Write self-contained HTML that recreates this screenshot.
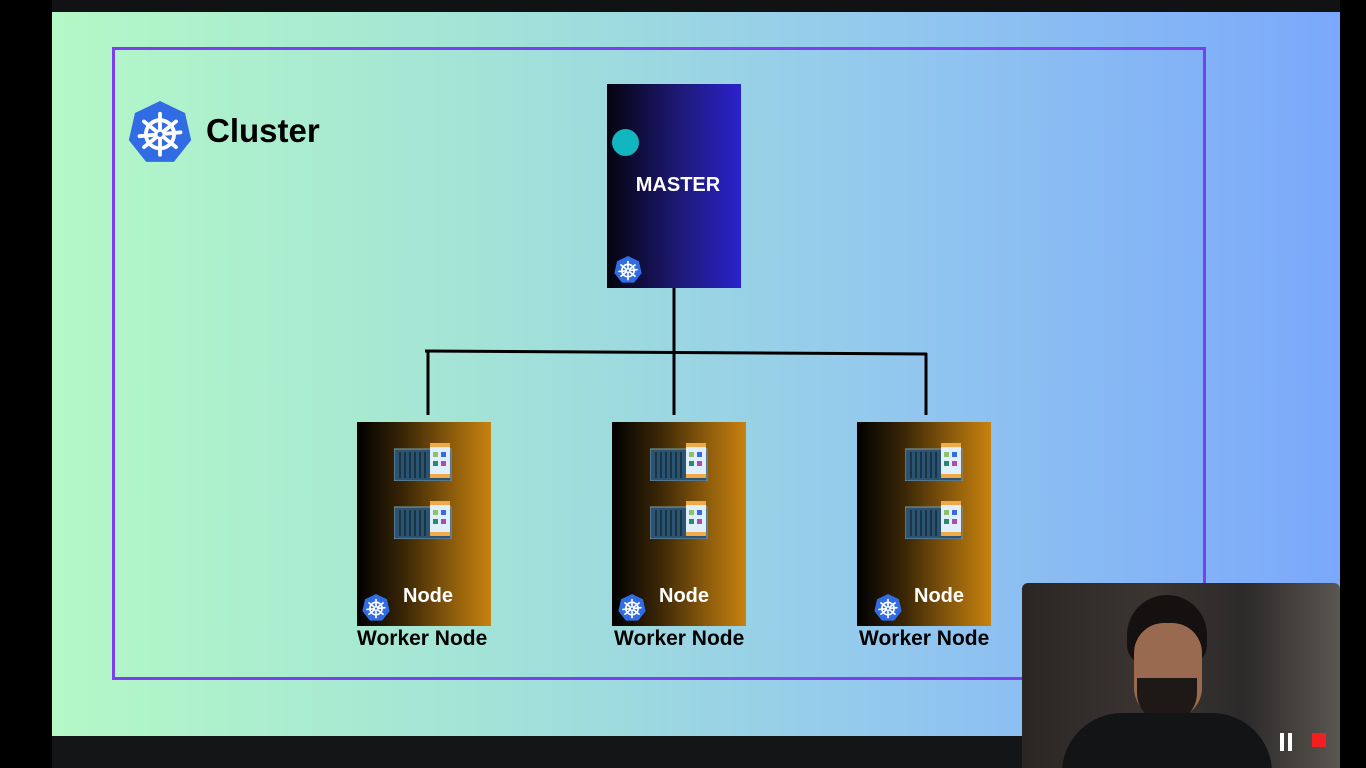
<!DOCTYPE html>
<html><head><meta charset="utf-8"><style>
*{margin:0;padding:0;box-sizing:border-box}
body{width:1366px;height:768px;background:#000;position:relative;overflow:hidden;font-family:"Liberation Sans",sans-serif}
.abs{position:absolute}
.top{left:52px;top:0;width:1288px;height:12px;background:#111214}
.bot{left:52px;top:736px;width:1288px;height:32px;background:#141517}
.slide{left:52px;top:12px;width:1288px;height:724px;background:linear-gradient(90deg,#b4f8c6 0%,#a2e2d8 35%,#93c8ee 65%,#7ba8fb 100%)}
.cluster{left:112px;top:47px;width:1094px;height:633px;border:3px solid #7b3ff0}
.master{left:607px;top:84px;width:134px;height:204px;background:linear-gradient(90deg,#05030e,#1e1a78 55%,#2a22cc)}
.node{width:134px;height:204px;top:422px;background:linear-gradient(90deg,#000 0%,#3a2606 35%,#8a5a0c 70%,#c8820e 100%)}
.lbl{color:#fff;font-weight:bold;font-size:20px;text-align:center}
.wn{color:#000;font-weight:bold;font-size:21px;top:627px;white-space:nowrap}
</style></head><body>
<svg width="0" height="0" style="position:absolute">
<defs>
<symbol id="k8" viewBox="0 0 100 100">
<polygon points="50,0 89.1,18.8 98.7,61.1 71.7,95.1 28.3,95.1 1.3,61.1 10.9,18.8" fill="#326ce5"/>
<g stroke="#fff" stroke-width="6" fill="none" stroke-linecap="round">
<circle cx="50" cy="52" r="22"/>
<line x1="50" y1="20" x2="50" y2="84"/>
<line x1="25" y1="32" x2="75" y2="72"/>
<line x1="75" y1="32" x2="25" y2="72"/>
<line x1="18" y1="55" x2="82" y2="49"/>
</g>
<circle cx="50" cy="52" r="6" fill="#326ce5" stroke="#fff" stroke-width="4"/>
</symbol>
<symbol id="ct" viewBox="0 0 60 38">
<rect x="0" y="6" width="57" height="32" fill="#2c5470" stroke="#7d9aab" stroke-width="1"/>
<g stroke="#183447" stroke-width="2">
<line x1="6" y1="9" x2="6" y2="35"/><line x1="11" y1="9" x2="11" y2="35"/><line x1="16" y1="9" x2="16" y2="35"/><line x1="21" y1="9" x2="21" y2="35"/><line x1="26" y1="9" x2="26" y2="35"/><line x1="31" y1="9" x2="31" y2="35"/>
</g>
<rect x="36" y="0" width="20" height="35" fill="#dff0fa"/>
<rect x="36" y="0" width="20" height="4" fill="#f0a848"/>
<rect x="36" y="31" width="20" height="4" fill="#f0a848"/>
<rect x="39" y="9" width="5" height="5" fill="#8fc070"/><rect x="47" y="9" width="5" height="5" fill="#3a6ae0"/>
<rect x="39" y="18" width="5" height="5" fill="#2a8a70"/><rect x="47" y="18" width="5" height="5" fill="#b04ab0"/>
</symbol>
</defs></svg>
<div class="abs top"></div><div class="abs bot"></div>
<div class="abs slide"></div>
<div class="abs cluster"></div>
<svg class="abs" style="left:128px;top:101px" width="64" height="64"><use href="#k8"/></svg>
<div class="abs" style="left:206px;top:112px;font-size:33px;font-weight:bold;color:#000">Cluster</div>
<div class="abs master"></div>
<div class="abs" style="left:612px;top:129px;width:27px;height:27px;border-radius:50%;background:#12b6be"></div>
<div class="abs lbl" style="left:606px;top:174px;width:144px">MASTER</div>
<svg class="abs" style="left:614px;top:256px" width="28" height="28"><use href="#k8"/></svg>
<svg class="abs" style="left:0;top:0" width="1366" height="768">
<g stroke="#000" stroke-width="3">
<line x1="674" y1="288" x2="674" y2="415"/>
<line x1="425" y1="351" x2="927" y2="354"/>
<line x1="428" y1="351" x2="428" y2="415"/>
<line x1="926" y1="353" x2="926" y2="415"/>
</g></svg>

<div class="abs node" style="left:357px"></div>
<div class="abs node" style="left:612px"></div>
<div class="abs node" style="left:857px"></div>

<svg class="abs" style="left:394px;top:443px" width="60" height="38"><use href="#ct"/></svg>
<svg class="abs" style="left:394px;top:501px" width="60" height="38"><use href="#ct"/></svg>
<svg class="abs" style="left:650px;top:443px" width="60" height="38"><use href="#ct"/></svg>
<svg class="abs" style="left:650px;top:501px" width="60" height="38"><use href="#ct"/></svg>
<svg class="abs" style="left:905px;top:443px" width="60" height="38"><use href="#ct"/></svg>
<svg class="abs" style="left:905px;top:501px" width="60" height="38"><use href="#ct"/></svg>

<div class="abs lbl" style="left:398px;top:585px;width:60px">Node</div>
<div class="abs lbl" style="left:654px;top:585px;width:60px">Node</div>
<div class="abs lbl" style="left:909px;top:585px;width:60px">Node</div>
<svg class="abs" style="left:362px;top:594px" width="28" height="28"><use href="#k8"/></svg>
<svg class="abs" style="left:618px;top:594px" width="28" height="28"><use href="#k8"/></svg>
<svg class="abs" style="left:874px;top:594px" width="28" height="28"><use href="#k8"/></svg>

<div class="abs wn" style="left:357px">Worker Node</div>
<div class="abs wn" style="left:614px">Worker Node</div>
<div class="abs wn" style="left:859px">Worker Node</div>

<div class="abs" style="left:1022px;top:583px;width:318px;height:185px;background:linear-gradient(90deg,#2a2624 0%,#3b3532 40%,#2c2a2a 70%,#5a5650 100%);border-radius:6px 6px 0 0;overflow:hidden">
<div class="abs" style="left:105px;top:12px;width:80px;height:70px;border-radius:40px 40px 20px 20px;background:#141110"></div>
<div class="abs" style="left:112px;top:40px;width:68px;height:95px;border-radius:30px;background:#9a6a50"></div>
<div class="abs" style="left:115px;top:95px;width:60px;height:45px;border-radius:0 0 30px 30px;background:#1e1816"></div>
<div class="abs" style="left:40px;top:130px;width:210px;height:70px;border-radius:60px 60px 0 0;background:#121416"></div>
<div class="abs" style="left:258px;top:150px;width:4px;height:18px;background:#fff"></div>
<div class="abs" style="left:266px;top:150px;width:4px;height:18px;background:#fff"></div>
<div class="abs" style="left:290px;top:150px;width:14px;height:14px;background:#f02020"></div>
</div>
</body></html>
